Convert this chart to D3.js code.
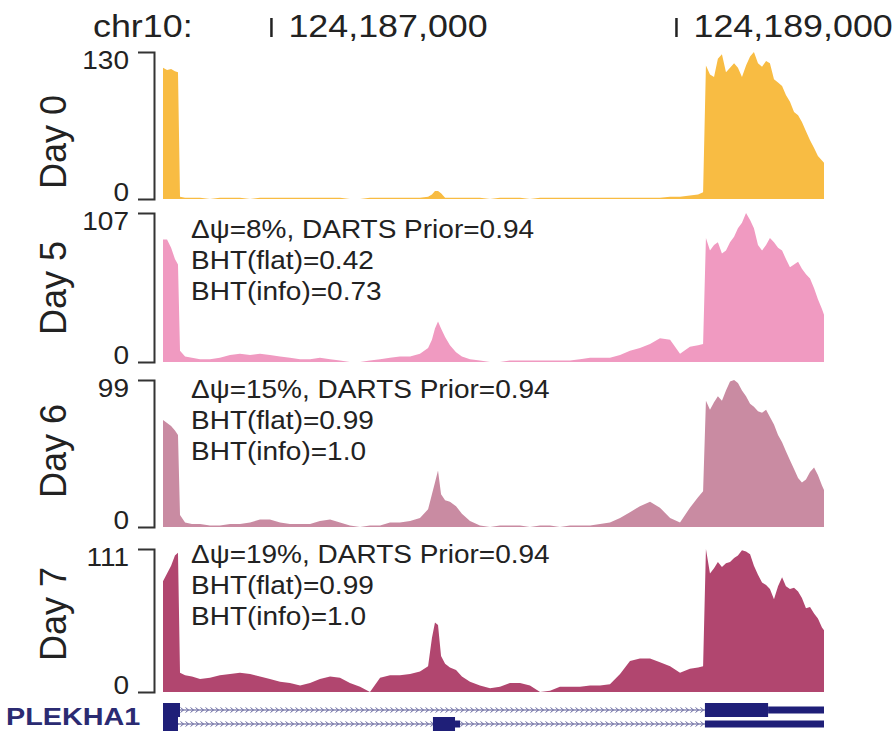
<!DOCTYPE html>
<html>
<head>
<meta charset="utf-8">
<script src="https://cdn.jsdelivr.net/npm/d3@7"></script>
<style>
body { margin: 0; background: #fff; }
text { font-family: "Liberation Sans", Arial, Helvetica, sans-serif; fill: #222; }
</style>
</head>
<body>
<div id="chart"></div>
<script>
// genomic window shown (chr10)
var chrom = "chr10:";
var regionStart = 124186467;
var regionEnd = 124189731;
var coordTicks = [124187000, 124189000];

// bin positions, bp offset from regionStart
var positions = [0, 20, 40, 59, 74, 84, 109, 143, 183, 232, 281, 331, 380, 430, 479, 528, 578, 627, 677, 726,
    775, 825, 874, 923, 973, 1022, 1072, 1121, 1170, 1220, 1269, 1309, 1328, 1343, 1358, 1373, 1393, 1417, 1447, 1476,
    1516, 1565, 1615, 1664, 1713, 1763, 1812, 1862, 1911, 1960, 2010, 2059, 2109, 2158, 2207, 2257, 2306, 2355, 2405, 2454,
    2504, 2553, 2602, 2642, 2667, 2681, 2701, 2721, 2740, 2760, 2780, 2800, 2820, 2839, 2859, 2879, 2899, 2918, 2938, 2958,
    2978, 2997, 3017, 3037, 3057, 3076, 3096, 3116, 3136, 3155, 3175, 3195, 3215, 3234, 3254, 3264];

// read coverage per day
var day0 = [116, 114, 115, 113, 112, 2, 1, 1, 1, 0,
    1, 1, 1, 0, 1, 1, 1, 1, 1, 1, 1, 1, 1, 0, 0, 1, 1, 1, 1, 1, 1,
    2, 4, 7, 7, 5, 1, 1, 1, 1, 1,
    1, 0, 1, 1, 1, 0, 1, 1, 1, 1, 1, 1, 1, 1, 1, 1, 1, 1, 1, 2, 2, 3,
    4, 6,
    118, 110, 108, 124, 128, 112, 116, 120, 116, 108, 118, 126, 130, 120, 117, 122, 120, 106, 103, 100,
    92, 86, 77, 74, 68, 60, 52, 45, 38, 34, 32];
var day5 = [88, 88, 82, 74, 70, 8, 4, 3, 2, 2,
    3, 5, 6, 5, 6, 5, 4, 3, 2, 2, 3, 2, 1, 0, 0, 1, 2, 3, 4, 4, 6,
    10, 16, 24, 29, 24, 18, 12, 7, 4, 2,
    1, 0, 0, 1, 1, 1, 1, 1, 1, 1, 2, 3, 3, 3, 5, 8, 10, 13, 17, 16, 6, 11,
    12, 13,
    89, 80, 84, 86, 78, 80, 86, 90, 96, 100, 107, 102, 96, 84, 80, 84, 89, 86, 82, 80,
    74, 68, 70, 72, 67, 63, 60, 53, 45, 38, 34];
var day6 = [72, 70, 68, 65, 62, 8, 3, 2, 2, 1,
    1, 2, 2, 3, 5, 5, 3, 2, 2, 2, 4, 5, 3, 1, 0, 1, 1, 3, 3, 4, 6,
    12, 22, 30, 38, 22, 18, 17, 14, 9, 4,
    1, 0, 1, 1, 1, 0, 1, 1, 0, 1, 1, 1, 2, 3, 6, 10, 14, 17, 13, 6, 3, 13,
    20, 24,
    85, 79, 84, 88, 85, 92, 98, 99, 97, 92, 88, 83, 81, 78, 77, 79, 74, 69, 62, 57,
    51, 45, 39, 33, 30, 32, 37, 40, 35, 28, 25];
var day7 = [86, 92, 98, 106, 108, 15, 13, 12, 10, 11,
    13, 14, 15, 14, 12, 10, 8, 7, 5, 7, 10, 12, 11, 7, 4, 0, 11, 13, 13, 14, 16,
    20, 42, 54, 52, 28, 22, 19, 17, 12, 8,
    5, 3, 4, 7, 7, 5, 0, 1, 4, 4, 4, 5, 5, 6, 14, 24, 26, 26, 23, 20, 15, 18,
    19, 20,
    111, 92, 96, 101, 97, 100, 101, 104, 106, 110, 109, 107, 98, 91, 85, 83, 80, 72, 82, 89,
    82, 80, 81, 78, 73, 65, 66, 61, 57, 50, 48];

var dayLabels = ["Day 0", "Day 5", "Day 6", "Day 7"];
var trackMax = [130, 107, 99, 111];
var notes5 = ["\u0394\u03c8=8%, DARTS Prior=0.94", "BHT(flat)=0.42", "BHT(info)=0.73"];
var notes6 = ["\u0394\u03c8=15%, DARTS Prior=0.94", "BHT(flat)=0.99", "BHT(info)=1.0"];
var notes7 = ["\u0394\u03c8=19%, DARTS Prior=0.94", "BHT(flat)=0.99", "BHT(info)=1.0"];

// gene model, exons as [start offset, end offset, type]
var geneName = "PLEKHA1";
var tx1Exons = [[0, 84, "cds"], [2676, 2988, "cds"], [2988, 3264, "utr"]];
var tx2Exons = [[0, 74, "cds"], [1333, 1442, "cds"], [1442, 1467, "utr"], [2676, 3264, "utr"]];

var fullWidth = 895;
var fullHeight = 731;
var sx = 1.12; // text in the figure is a bit wide

var tracks = [
    { cov: day0, top: 52, bottom: 199, color: "#f8bc43", labelY: 142, notes: null },
    { cov: day5, top: 213, bottom: 362, color: "#f09ac1", labelY: 288, notes: notes5, noteY: 238 },
    { cov: day6, top: 380, bottom: 527, color: "#c98ba2", labelY: 451, notes: notes6, noteY: 398 },
    { cov: day7, top: 549, bottom: 692, color: "#b1466f", labelY: 614, notes: notes7, noteY: 563 }
];

var svg = d3.select("#chart").append("svg")
    .attr("width", fullWidth).attr("height", fullHeight);

var x = d3.scaleLinear()
    .domain([regionStart, regionEnd])
    .range([163, 824]);

// coordinate header
svg.append("text")
    .attr("transform", "translate(93,37) scale(" + sx + ",1)")
    .style("font-size", "32px")
    .text(chrom);

var topAxis = d3.axisTop(x).tickValues(coordTicks).tickSize(19).tickFormat(d3.format(","));
var topG = svg.append("g").attr("transform", "translate(0,37)").call(topAxis);
topG.select(".domain").remove();
topG.selectAll(".tick line").attr("stroke", "#222").attr("stroke-width", 2.5);
topG.selectAll(".tick text")
    .attr("y", 0).attr("dy", null)
    .attr("text-anchor", "start")
    .attr("transform", "translate(17,0) scale(" + sx + ",1)")
    .style("font-size", "32px");

tracks.forEach(function (t, i) {
    var y = d3.scaleLinear()
        .domain([0, trackMax[i]])
        .range([t.bottom, t.top]);

    var rows = positions.map(function (p, j) {
        return { pos: regionStart + p, v: t.cov[j] };
    });

    var area = d3.area()
        .x(function (d) { return x(d.pos); })
        .y0(t.bottom)
        .y1(function (d) { return y(d.v); })
        .curve(d3.curveLinear);

    svg.append("path")
        .datum(rows)
        .attr("fill", t.color)
        .attr("d", area);

    var yAxis = d3.axisLeft(y)
        .tickValues([0, trackMax[i]])
        .tickSizeInner(0)
        .tickSizeOuter(16);

    var ag = svg.append("g")
        .attr("transform", "translate(154,0)")
        .call(yAxis);
    ag.select(".domain").attr("stroke", "#333").attr("stroke-width", 2);
    ag.selectAll(".tick line").remove();
    ag.selectAll(".tick text")
        .attr("x", 0).attr("dy", null)
        .attr("y", function (d) { return d === 0 ? 1 : 16; })
        .attr("text-anchor", "end")
        .attr("transform", "translate(-25,0) scale(" + sx + ",1)")
        .style("font-size", "25px");

    svg.append("text")
        .attr("transform", "translate(66," + t.labelY + ") rotate(-90)")
        .attr("text-anchor", "middle")
        .style("font-size", "36px")
        .text(dayLabels[i]);

    if (t.notes) {
        t.notes.forEach(function (s, k) {
            svg.append("text")
                .attr("transform", "translate(191," + (t.noteY + k * 31) + ") scale(" + sx + ",1)")
                .style("font-size", "25px")
                .text(s);
        });
    }
});

// gene model
svg.append("text")
    .attr("transform", "translate(6,725) scale(1.2,1)")
    .style("font-size", "24px")
    .style("font-weight", "bold")
    .style("fill", "#2b2b72")
    .text(geneName);

var geneColor = "#1f1f78";
[[tx1Exons, 710], [tx2Exons, 724]].forEach(function (tx) {
    var exons = tx[0], cy = tx[1];
    var x0 = x(regionStart + d3.min(exons, function (e) { return e[0]; }));
    var x1 = x(regionStart + d3.max(exons, function (e) { return e[1]; }));
    var gg = svg.append("g");

    gg.append("line")
        .attr("x1", x0).attr("x2", x1)
        .attr("y1", cy).attr("y2", cy)
        .attr("stroke", "#55558f").attr("stroke-width", 1.2);

    gg.selectAll("path.chev")
        .data(d3.range(x0 + 4, x1, 5))
        .enter().append("path")
        .attr("class", "chev")
        .attr("d", function (px) {
            return "M" + (px - 1.5) + "," + (cy - 2.5) + "L" + (px + 1.5) + "," + cy + "L" + (px - 1.5) + "," + (cy + 2.5);
        })
        .attr("fill", "none")
        .attr("stroke", "#6b6ba3")
        .attr("stroke-width", 1);

    gg.selectAll("rect")
        .data(exons)
        .enter().append("rect")
        .attr("x", function (e) { return x(regionStart + e[0]); })
        .attr("width", function (e) { return x(regionStart + e[1]) - x(regionStart + e[0]); })
        .attr("y", function (e) { return e[2] === "cds" ? cy - 7 : cy - 3.5; })
        .attr("height", function (e) { return e[2] === "cds" ? 14 : 7; })
        .attr("fill", geneColor);
});
</script>
</body>
</html>
